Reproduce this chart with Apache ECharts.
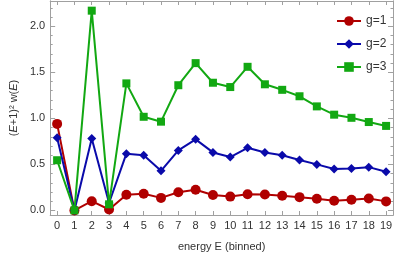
<!DOCTYPE html>
<html><head><meta charset="utf-8">
<script src="https://cdn.jsdelivr.net/npm/echarts@6/dist/echarts.min.js"></script>
<style>html,body{margin:0;padding:0;background:#fff}#c{width:395px;height:257px}</style>
</head><body><div id="c"></div>
<script>
const energies = [0,1,2,3,4,5,6,7,8,9,10,11,12,13,14,15,16,17,18,19];
const g1 = [0.94,0.0,0.10,0.01,0.17,0.18,0.136,0.197,0.225,0.168,0.15,0.175,0.172,0.16,0.144,0.126,0.105,0.115,0.13,0.098];
const g2 = [0.79,0.0,0.78,0.08,0.616,0.60,0.43,0.652,0.772,0.63,0.58,0.68,0.63,0.60,0.548,0.50,0.45,0.456,0.47,0.42];
const g3 = [0.545,0.0,2.17,0.066,1.38,1.017,0.964,1.36,1.60,1.387,1.34,1.56,1.37,1.31,1.24,1.13,1.04,1.006,0.96,0.918];
const yTicks = [0,0.5,1,1.5,2];
const yMinor = [];
for (let i = 0; i <= 22; i++) yMinor.push(+(i*0.1).toFixed(1));
const names = ['g=1','g=2','g=3'];
const colors = ['#b00000','#0a0aaa','#12a812'];

const axisCol = '#a0a0a0';
const font = 'Liberation Sans, Arial, sans-serif';
const XMIN = -0.4, XMAX = 19.4, YMIN = -0.05, YMAX = 2.275;

const chart = echarts.init(document.getElementById('c'), null, {renderer:'canvas'});
function xAx(pos, show){
  return {type:'value', position:pos, min:XMIN, max:XMAX,
    axisLine:{show:true, onZero:false, lineStyle:{color:axisCol, width:1}},
    axisTick:{show:true, inside:true, length:4, customValues:energies, lineStyle:{color:axisCol}},
    axisLabel:{show:show, customValues:energies, color:'#333', fontSize:11, fontFamily:font, margin:5},
    splitLine:{show:false},
    name: show ? 'energy E (binned)' : '', nameLocation:'middle', nameGap:26,
    nameTextStyle:{color:'#333', fontSize:11, fontFamily:font}};
}
function yAx(pos, show, ticks, len){
  return {type:'value', position:pos, min:YMIN, max:YMAX,
    axisLine:{show:true, onZero:false, lineStyle:{color:axisCol, width:1}},
    axisTick:{show:true, inside:true, length:len, customValues:ticks, lineStyle:{color:axisCol}},
    axisLabel:{show:show, customValues:yTicks, color:'#333', fontSize:11, fontFamily:font, margin:5,
      formatter: v => v.toFixed(1)},
    splitLine:{show:false},
    name: show ? '({i|E}+1)² w({i|E})' : '', nameLocation:'middle', nameGap:25, nameRotate:90,
    nameTextStyle:{color:'#333', fontSize:11, fontFamily:font,
      rich:{i:{fontStyle:'italic', fontSize:11, fontFamily:font, color:'#333'}}}};
}
const symbols = ['circle','diamond','rect'];
const sizes = [10,9,8];
const data = [g1,g2,g3];
chart.setOption({
  animation:false,
  backgroundColor:'#fff',
  grid:{left:40, right:1, top:1, bottom:38, containLabel:false},
  legend:{orient:'vertical', left:331, top:10, itemWidth:24, itemHeight:12, itemGap:11,
    textStyle:{color:'#333', fontSize:12, fontFamily:font}, data:names},
  xAxis:[xAx('bottom', true), xAx('top', false)],
  yAxis:[yAx('left', true, yTicks, 5), yAx('left', false, yMinor, 2.5),
         yAx('right', false, yTicks, 5), yAx('right', false, yMinor, 2.5)],
  series: names.map((n,k)=>({
    name:n, type:'line', xAxisIndex:0, yAxisIndex:0,
    data: energies.map((e,i)=>[e, data[k][i]]),
    symbol:symbols[k], symbolSize:sizes[k], showSymbol:true,
    lineStyle:{color:colors[k], width:2}, itemStyle:{color:colors[k]},
    z: 2+k
  }))
});
</script></body></html>
